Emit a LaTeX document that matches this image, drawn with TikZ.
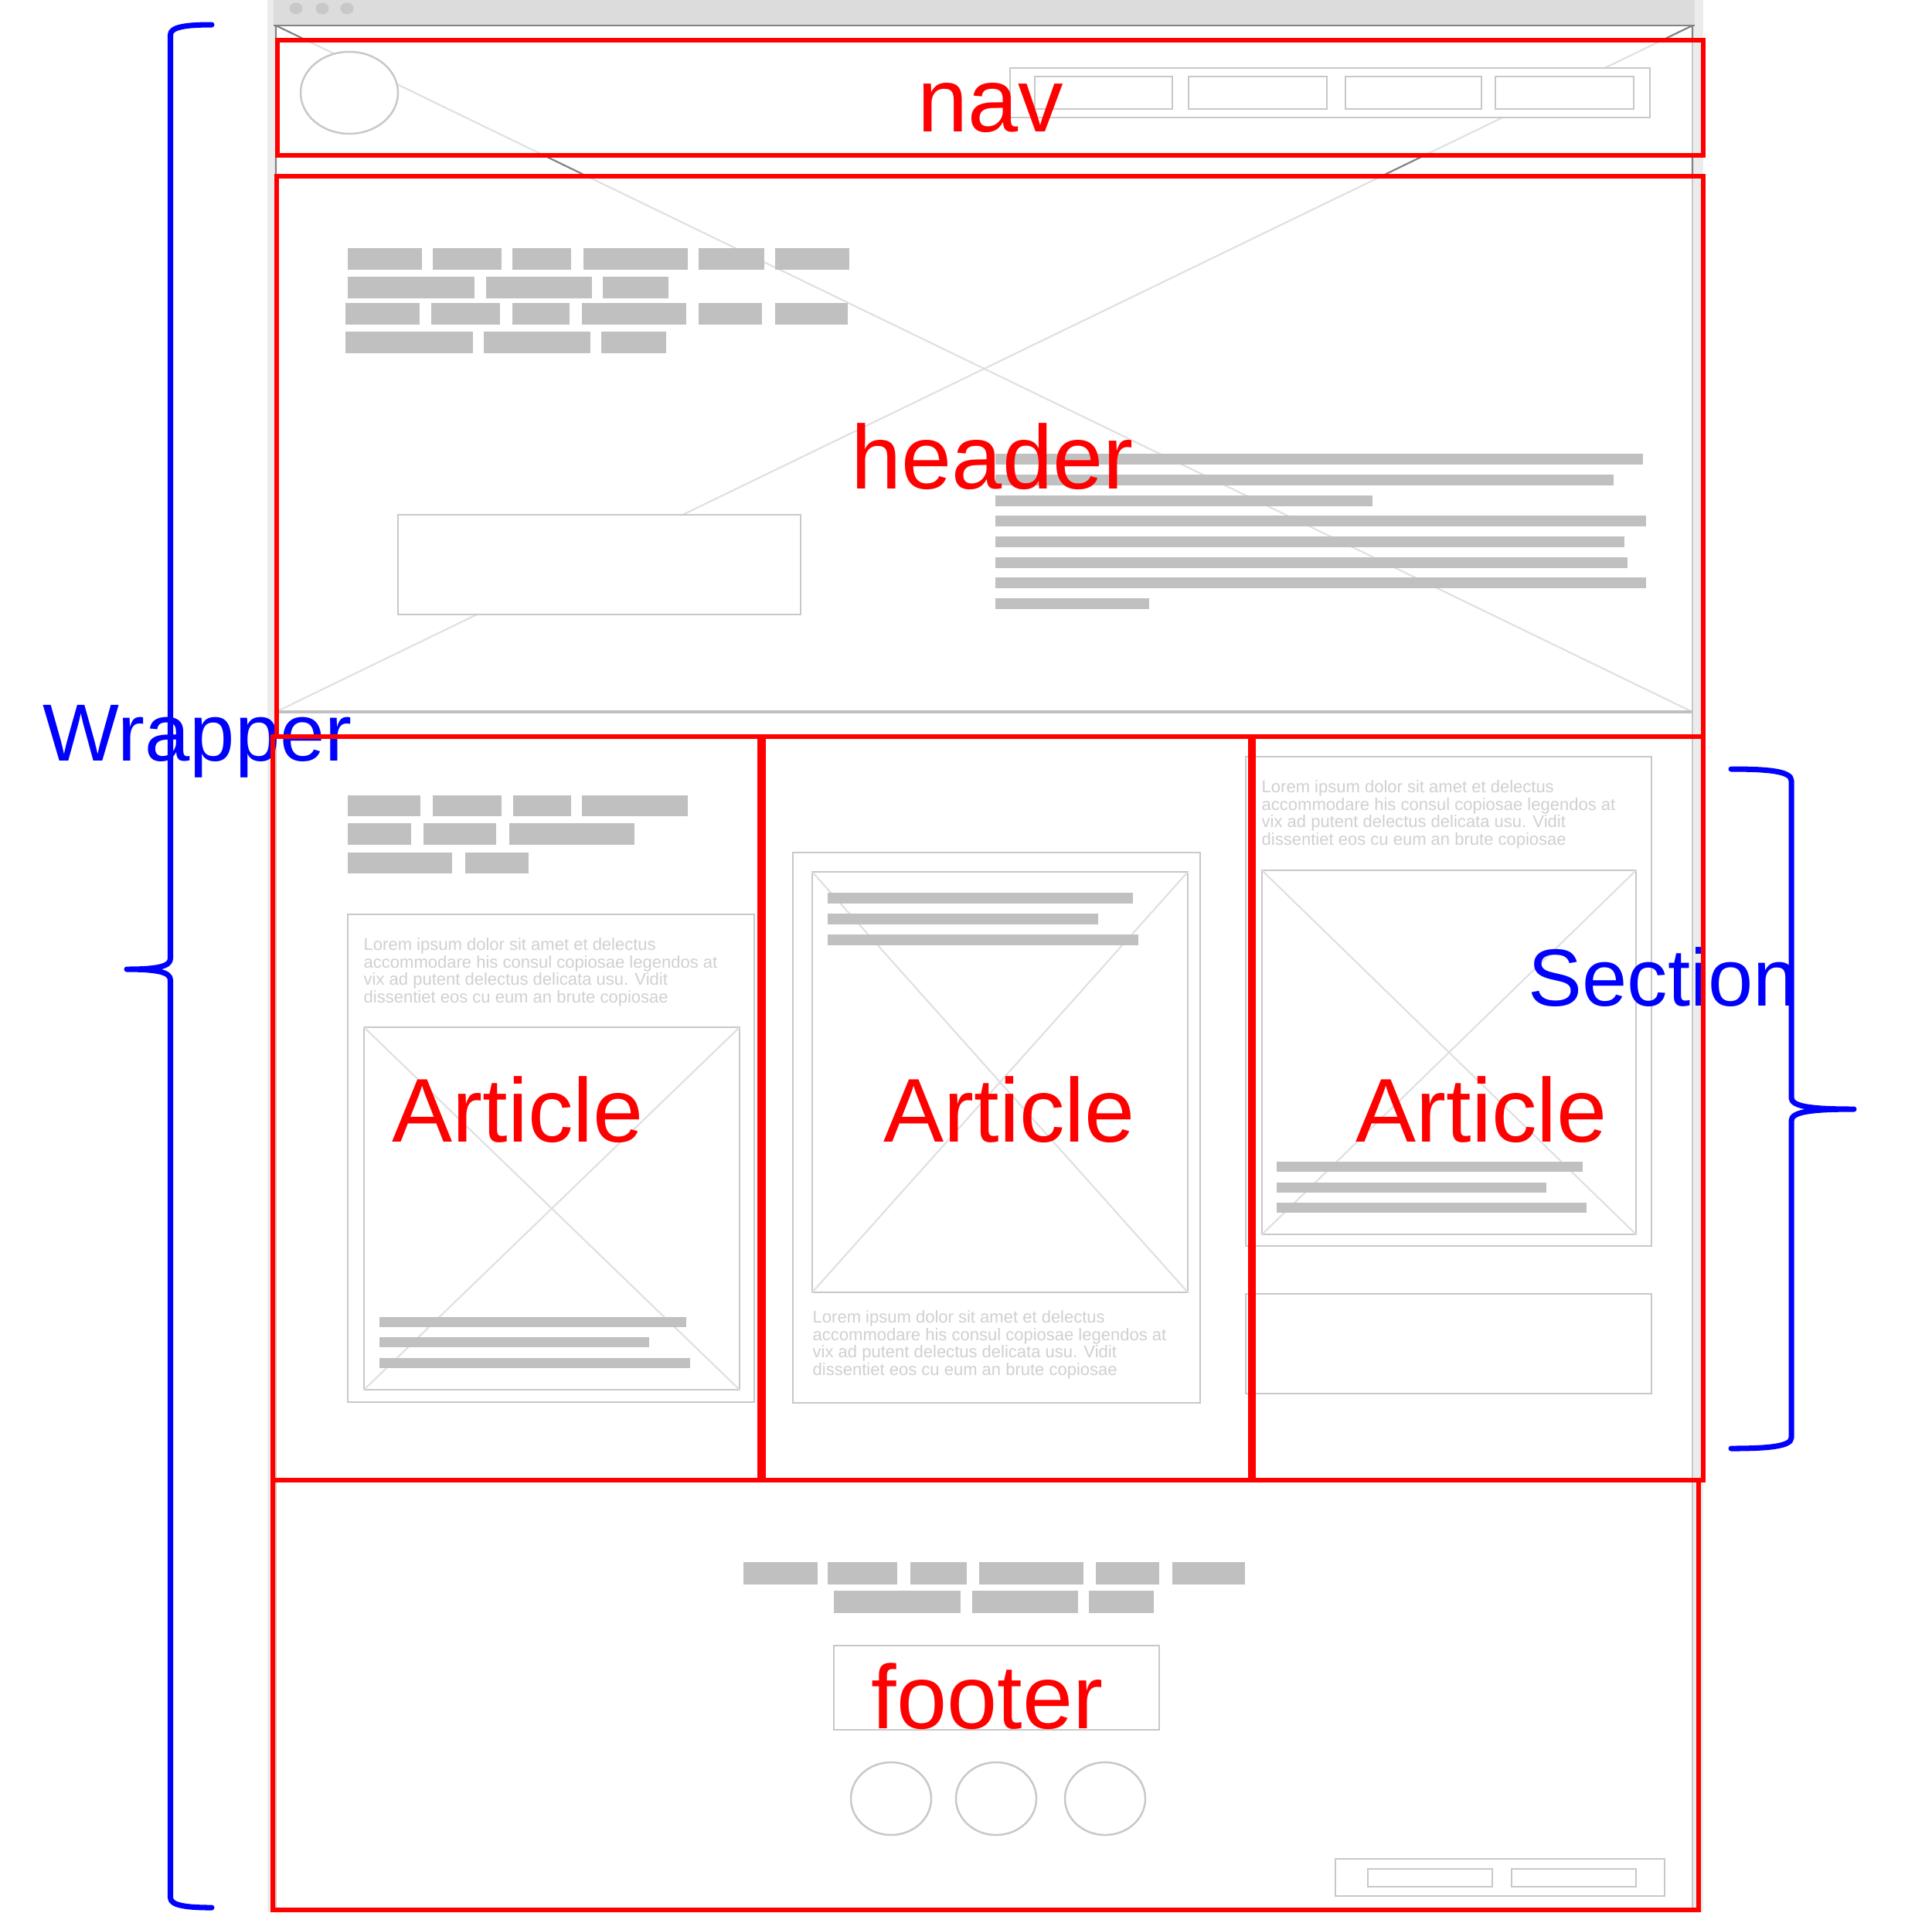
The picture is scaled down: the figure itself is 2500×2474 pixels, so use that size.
\documentclass[tikz,border=0pt]{standalone}
\usepackage{fontspec}
\setmainfont{Liberation Sans}
\definecolor{stripcol}{RGB}{236,236,236}
\definecolor{titlecol}{RGB}{220,220,220}
\definecolor{dotcol}{RGB}{200,200,200}
\definecolor{edgecol}{RGB}{200,200,200}
\definecolor{darkedge}{RGB}{130,130,130}
\definecolor{xcol}{RGB}{224,224,224}
\definecolor{barcol}{RGB}{192,192,192}
\definecolor{loremcol}{RGB}{208,208,208}
\definecolor{tagred}{RGB}{255,0,0}
\definecolor{tagblue}{RGB}{0,0,255}
\tikzset{
  bar/.style={fill=barcol, draw=none},
  wire/.style={draw=edgecol, line width=0.7pt, fill=white},
  xline/.style={draw=xcol, line width=0.6pt},
  redbox/.style={draw=tagred, line width=1.7pt},
  redlabel/.style={text=tagred, inner sep=0pt, anchor=base west, font=\fontsize{33.3}{40}\selectfont},
  bluelabel/.style={text=tagblue, inner sep=0pt, anchor=base west, font=\fontsize{29.8}{36}\selectfont},
  lorem/.style={text=loremcol, inner sep=0pt, anchor=north west, align=left, font=\fontsize{6.26}{6.4}\selectfont},
  bracket/.style={draw=tagblue, line width=2pt, line cap=round, line join=round}
}
\begin{document}
\begin{tikzpicture}[x=0.01cm,y=-0.01cm]
\useasboundingbox (0,0) rectangle (2500,2474);
\fill[white] (0,0) rectangle (2500,2474);

% browser window
\fill[stripcol] (346,0) rectangle (2204,2474);
\fill[titlecol] (354,0) rectangle (2193,33);
\foreach \cx in {383,417,449} \fill[dotcol] (\cx,11) ellipse [x radius=8.5, y radius=7.5];
\fill[white] (357,33) rectangle (2190,2474);
\draw[edgecol, line width=0.6pt] (357,33) -- (357,2474) (2190,33) -- (2190,2474);

% large image placeholder behind nav and header
\draw[xline] (357,33) -- (2190,921) (2190,33) -- (357,921);
\begin{scope}
  \clip (340,33) rectangle (2210,49) (340,204) rectangle (2210,225);
  \draw[darkedge, line width=0.6pt] (357,33) -- (2190,921) (2190,33) -- (357,921)
        (357,33) -- (357,300) (2190,33) -- (2190,300);
\end{scope}
\draw[darkedge, line width=0.7pt] (354,33) -- (2193,33);
\draw[draw=barcol, line width=1.1pt] (357,921) -- (2190,921);

% nav: logo and menu
\draw[wire] (452,120) ellipse [x radius=63, y radius=53];
\draw[wire] (1307,88) rectangle (2135,152);
\foreach \a/\b in {1339/1517,1538/1717,1741/1917,1935/2114}
  \draw[wire] (\a,99) rectangle (\b,141);

% header: heading blocks
\foreach \a/\b in {450/546,560/649,663/739,755/890,904/989,1003/1099}
  \fill[bar] (\a,321) rectangle (\b,349);
\foreach \a/\b in {450/614,629/766,780/865}
  \fill[bar] (\a,358) rectangle (\b,386);
\foreach \a/\b in {447/543,558/647,663/737,753/888,904/986,1003/1097}
  \fill[bar] (\a,392) rectangle (\b,420);
\foreach \a/\b in {447/612,626/764,778/862}
  \fill[bar] (\a,429) rectangle (\b,457);
% header: button
\draw[wire] (515,666) rectangle (1036,795);
% header: paragraph lines
\foreach \t/\e in {587/2126,614/2088,641/1776,667/2130,694/2102,721/2106,747/2130,774/1487}
  \fill[bar] (1288,\t) rectangle (\e,\t+14);

% first article
\foreach \a/\b in {450/544,560/649,664/739,753/890}
  \fill[bar] (\a,1029) rectangle (\b,1056);
\foreach \a/\b in {450/532,548/642,659/821}
  \fill[bar] (\a,1065) rectangle (\b,1093);
\foreach \a/\b in {450/585,602/684}
  \fill[bar] (\a,1103) rectangle (\b,1130);
\draw[wire] (450,1183) rectangle (976,1814);
\node[lorem] (lorem1) at (470,1213) {Lorem ipsum dolor sit amet et delectus\\accommodare his consul copiosae legendos at\\vix ad putent delectus delicata usu. Vidit\\dissentiet eos cu eum an brute copiosae};
\draw[wire] (471,1329) rectangle (957,1798);
\draw[xline] (471,1329) -- (957,1798) (957,1329) -- (471,1798);
\foreach \t/\e in {1704/888,1730/840,1757/893}
  \fill[bar] (491,\t) rectangle (\e,\t+13);

% second article
\draw[wire] (1026,1103) rectangle (1553,1815);
\draw[wire] (1051,1128) rectangle (1537,1672);
\draw[xline] (1051,1128) -- (1537,1672) (1537,1128) -- (1051,1672);
\foreach \t/\e in {1155/1466,1182/1421,1209/1473}
  \fill[bar] (1071,\t) rectangle (\e,\t+14);
\node[lorem] (lorem2) at (1051,1695) {Lorem ipsum dolor sit amet et delectus\\accommodare his consul copiosae legendos at\\vix ad putent delectus delicata usu. Vidit\\dissentiet eos cu eum an brute copiosae};

% third article
\draw[wire] (1612,979) rectangle (2137,1612);
\node[lorem] (lorem3) at (1632,1009) {Lorem ipsum dolor sit amet et delectus\\accommodare his consul copiosae legendos at\\vix ad putent delectus delicata usu. Vidit\\dissentiet eos cu eum an brute copiosae};
\draw[wire] (1633,1126) rectangle (2117,1597);
\draw[xline] (1633,1126) -- (2117,1597) (2117,1126) -- (1633,1597);
\foreach \t/\e in {1503/2048,1530/2001,1556/2053}
  \fill[bar] (1652,\t) rectangle (\e,\t+13);
\draw[wire] (1612,1674) rectangle (2137,1803);

% footer
\foreach \a/\b in {962/1058,1071/1161,1178/1251,1267/1402,1418/1500,1517/1611}
  \fill[bar] (\a,2021) rectangle (\b,2050);
\foreach \a/\b in {1079/1243,1258/1395,1409/1493}
  \fill[bar] (\a,2058) rectangle (\b,2087);
\draw[wire] (1079,2129) rectangle (1500,2238);
\foreach \cx in {1153,1289,1430}
  \draw[wire] (\cx,2327) ellipse [x radius=52, y radius=47];
\draw[wire] (1728,2405) rectangle (2154,2453);
\draw[wire] (1770,2418) rectangle (1931,2441);
\draw[wire] (1956,2418) rectangle (2117,2441);

% blue annotations
\node[bluelabel] (wrapper) at (55,984) {Wrapper};
\node[bluelabel] (section) at (1977,1301) {Section};

% red element outlines
\draw[redbox] (359,52) rectangle (2204,201);
\draw[redbox] (358,228) rectangle (2204,953);
\draw[redbox] (353,953) rectangle (983,1915);
\draw[redbox] (988,953) rectangle (1618,1915);
\draw[redbox] (1622,953) rectangle (2204,1915);
\draw[redbox] (353,1915) rectangle (2198,2471);

% red element names
\node[redlabel] (navtag) at (1187,170) {nav};
\node[redlabel] (headertag) at (1101,632) {header};
\node[redlabel] (art1) at (507,1477) {Article};
\node[redlabel] (art2) at (1143,1477) {Article};
\node[redlabel] (art3) at (1754,1477) {Article};
\node[redlabel] (footertag) at (1127,2236) {footer};

% braces
\draw[bracket] (274,32) .. controls (240,32) and (220.5,35) .. (220.5,45)
  -- (220.5,1240) .. controls (220.5,1250) and (205,1254) .. (164,1254)
  .. controls (205,1254) and (220.5,1258) .. (220.5,1268)
  -- (220.5,2455) .. controls (220.5,2465) and (240,2468) .. (274,2468);
\draw[bracket] (2240,995) .. controls (2290,995) and (2318,998) .. (2318,1010)
  -- (2318,1420) .. controls (2318,1431) and (2340,1435) .. (2399,1435)
  .. controls (2340,1435) and (2318,1439) .. (2318,1450)
  -- (2318,1860) .. controls (2318,1871) and (2290,1874) .. (2240,1874);
\end{tikzpicture}
\end{document}
